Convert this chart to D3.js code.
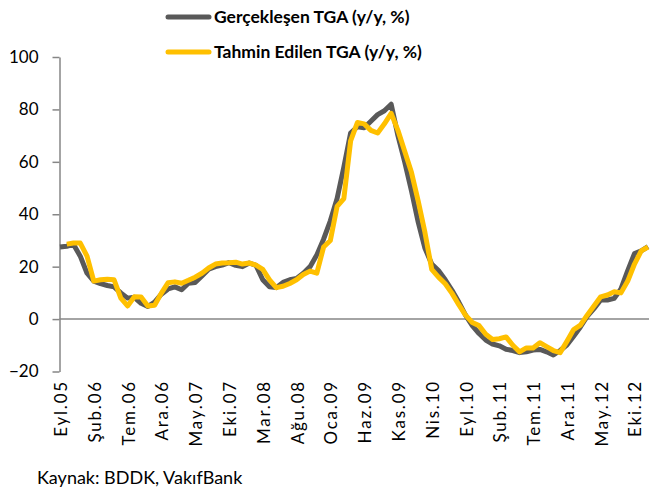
<!DOCTYPE html>
<html>
<head>
<meta charset="utf-8">
<script src="https://cdnjs.cloudflare.com/ajax/libs/d3/7.8.5/d3.min.js"></script>
<style>
  body { margin: 0; background: #fff; }
  svg { font-family: Lato, "Open Sans", sans-serif; }
</style>
</head>
<body>
<div id="chart"></div>
<script>
// month names (Turkish short) used to build the category labels
var monthNames = ["Oca", "Şub", "Mar", "Nis", "May", "Haz", "Tem", "Ağu", "Eyl", "Eki", "Kas", "Ara"];
var startYear = 2005, startMonth = 8; // Eyl.05

// Gerçekleşen TGA (y/y, %) - Eyl.05 ... Ara.12
var actual = [27.5, 27.8, 28.5, 24, 17.5, 14.5, 13.5, 12.8, 12.3, 10,
  8, 8.3, 6, 4.8, 6.5, 9.5, 11.5, 12.3, 11.2, 13.7,
  14, 16.5, 19, 20, 20.6, 21.5, 20.5, 20, 21.4, 20.5,
  15, 12.3, 12, 14, 15, 15.5, 17.5, 20, 24.5, 30.5,
  37.5, 46, 58, 71, 73.4, 73, 75.5, 78, 79.5, 82,
  70, 60, 49, 37, 27, 21, 18.5, 15, 11, 6.5,
  1.5, -2.5, -5.5, -8, -9.5, -10.2, -11.5, -12, -12.8, -12.5,
  -11.8, -11.6, -12.5, -13.7, -12, -9.9, -6.5, -3, 1, 4,
  7.3, 7.3, 7.9, 11.5, 18.5, 25, 26, 27.6];

// Tahmin Edilen TGA (y/y, %) - starts one month later
var forecast = [null, 28.6, 29, 29, 24, 14.5, 15, 15.2, 15, 8,
  5, 8.5, 8.4, 5, 5.3, 9.9, 13.9, 14.2, 13.7, 14.8,
  16, 17.5, 19.5, 21, 21.4, 21.5, 21.7, 21, 21.4, 20.6,
  19, 15, 12, 12.5, 13.6, 15, 17, 18.3, 17.5, 27.5,
  30, 43, 46, 68, 75, 74.5, 72, 71, 74.5, 78.5,
  72, 64, 56, 45, 33, 19, 16, 13.5, 9.8, 5.5,
  1.5, -1.3, -2.5, -5.8, -7.8, -7.5, -6.8, -10, -12.5, -11,
  -11, -9, -10.5, -12, -12.8, -8.5, -4, -2.3, 1.5, 5,
  8.5, 9.2, 10.4, 10, 14.5, 21, 26, 27.5];

var yTicks = [-20, 0, 20, 40, 60, 80, 100];
var seriesNames = ["Gerçekleşen TGA (y/y, %)", "Tahmin Edilen TGA (y/y, %)"];
var seriesColors = ["#595959", "#FFC000"];

var categories = actual.map(function(d, i) {
  var m = startMonth + i;
  var yr = startYear + Math.floor(m / 12);
  return monthNames[m % 12] + "." + String(yr).slice(2);
});
var xTickLabels = categories.filter(function(d, i) { return i % 5 === 0; });

var W = 650, H = 490;
var svg = d3.select("#chart").append("svg")
    .attr("width", W)
    .attr("height", H);

var x = d3.scalePoint()
  .domain(categories)
  .range([60, 648]);

var y = d3.scaleLinear()
  .domain([-20, 100])
  .range([371.5, 57]);

// y axis
var yAxis = svg.append("g")
  .attr("transform", "translate(59.5,0)")
  .call(d3.axisLeft(y).tickValues(yTicks).tickSize(7).tickSizeOuter(0).tickPadding(14));
yAxis.select(".domain").attr("stroke", "#868686").attr("stroke-width", 1.5);
yAxis.selectAll(".tick line").attr("stroke", "#868686").attr("stroke-width", 1.5);
yAxis.selectAll("text")
  .attr("font-size", 17)
  .attr("fill", "#000")
  .style("font-family", "Lato, sans-serif");

// zero line
svg.append("line")
  .attr("x1", 59.5).attr("x2", 649)
  .attr("y1", y(0)).attr("y2", y(0))
  .attr("stroke", "#868686")
  .attr("stroke-width", 1.5);

// x labels (low position, rotated)
svg.append("g")
  .selectAll("text")
  .data(xTickLabels)
  .enter()
  .append("text")
    .attr("transform", function(d) { return "translate(" + (x(d) + 7) + ",380)rotate(-90)"; })
    .attr("text-anchor", "end")
    .attr("font-size", 17)
    .attr("letter-spacing", 1.8)
    .attr("fill", "#000")
    .text(function(d) { return d; });

// lines
var line = d3.line()
  .defined(function(d) { return d != null; })
  .x(function(d, i) { return x(categories[i]); })
  .y(function(d) { return y(d); });

[actual, forecast].forEach(function(s, k) {
  svg.append("path")
    .datum(s)
    .attr("fill", "none")
    .attr("stroke", seriesColors[k])
    .attr("stroke-width", 5)
    .attr("stroke-linejoin", "round")
    .attr("d", line);
});

// legend
var legend = svg.append("g")
  .selectAll("g")
  .data(seriesNames)
  .enter()
  .append("g")
    .attr("transform", function(d, i) { return "translate(0," + (17 + i * 35) + ")"; });
legend.append("line")
  .attr("x1", 168).attr("x2", 209)
  .attr("stroke", function(d, i) { return seriesColors[i]; })
  .attr("stroke-width", 5)
  .attr("stroke-linecap", "round");
legend.append("text")
  .attr("x", 214)
  .attr("y", 6)
  .attr("font-size", 17.5)
  .attr("font-weight", "bold")
  .attr("fill", "#000")
  .text(function(d) { return d; });

// source
svg.append("text")
  .attr("x", 37)
  .attr("y", 484)
  .attr("font-size", 18)
  .attr("fill", "#000")
  .text("Kaynak: BDDK, VakıfBank");
</script>
</body>
</html>
